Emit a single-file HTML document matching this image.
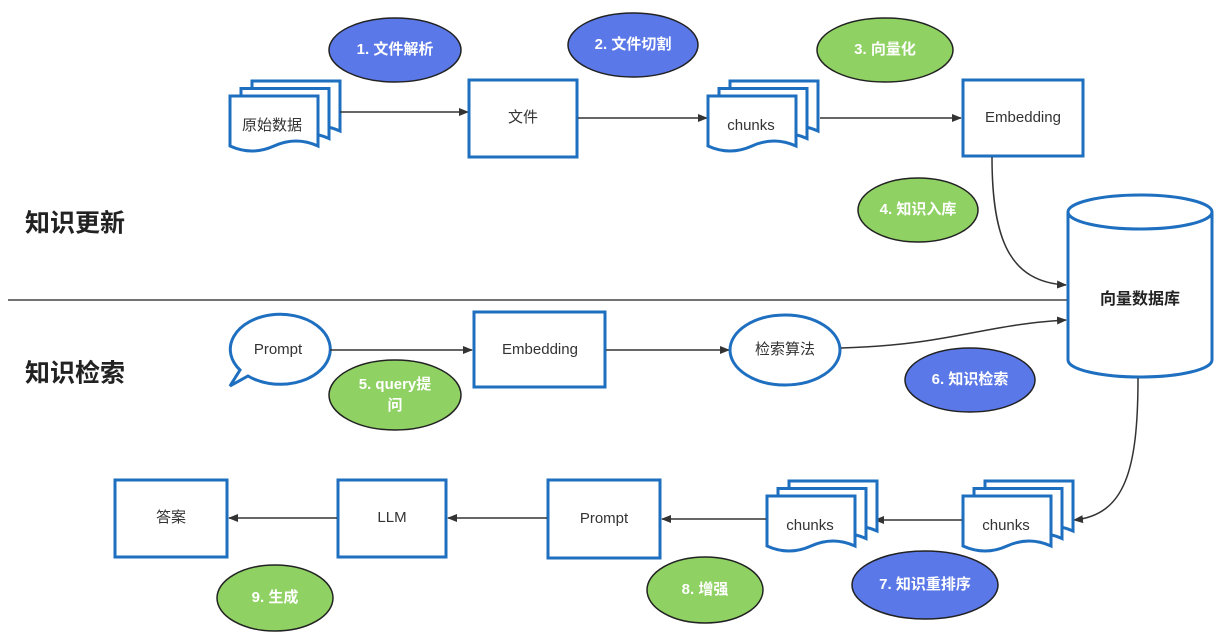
<!DOCTYPE html>
<html><head><meta charset="utf-8"><style>
body{margin:0;background:#fff;}
svg{display:block;}
text{font-family:"Liberation Sans","Noto Sans CJK SC",sans-serif;}
.t{font-size:15px;fill:#333;text-anchor:middle;dominant-baseline:middle;}
.l{font-size:15px;fill:#fff;font-weight:bold;text-anchor:middle;dominant-baseline:middle;}
.b{fill:#fff;stroke:#1e6fc0;stroke-width:3;}
.bl{fill:#5b78e8;stroke:#222;stroke-width:1.5;}
.gr{fill:#8fd163;stroke:#222;stroke-width:1.5;}
.a{stroke:#333;stroke-width:1.5;fill:none;marker-end:url(#ar);}
</style></head><body>
<svg width="1214" height="636" viewBox="0 0 1214 636">
<defs>
<marker id="ar" markerWidth="10" markerHeight="10" refX="9" refY="5" orient="auto" markerUnits="userSpaceOnUse"><path d="M0,1 L10,5 L0,9 Z" fill="#333"/></marker>
<path id="doc" d="M0 0 H88 V50 Q66 40 44 50 T0 50 Z"/>
<g id="stack">
<use href="#doc" x="22" y="-15" class="b"/>
<use href="#doc" x="11" y="-7.5" class="b"/>
<use href="#doc" class="b"/>
</g>
</defs>

<text x="25" y="225" style="font-size:25px;font-weight:bold;fill:#222;dominant-baseline:middle">知识更新</text>
<text x="25" y="375" style="font-size:25px;font-weight:bold;fill:#222;dominant-baseline:middle">知识检索</text>
<line x1="8" y1="300" x2="1070" y2="300" stroke="#444" stroke-width="1.5"/>

<!-- row 1 -->
<use href="#stack" x="230" y="96"/>
<text class="t" x="272" y="126">原始数据</text>
<path class="a" d="M340 112 H468"/>
<rect class="b" x="469" y="80" width="108" height="77"/>
<text class="t" x="523" y="118">文件</text>
<path class="a" d="M578 118 H707"/>
<use href="#stack" x="708" y="96"/>
<text class="t" x="751" y="126">chunks</text>
<path class="a" d="M820 118 H961"/>
<rect class="b" x="963" y="80" width="120" height="76"/>
<text class="t" x="1023" y="118">Embedding</text>
<path class="a" d="M992 157 C992 240 1010 282 1066 285"/>

<path class="b" d="M1068 212 V360 A72 17 0 0 0 1212 360 V212 A72 17 0 0 0 1068 212 A72 17 0 0 0 1212 212"/>
<text class="t" x="1140" y="300" style="font-weight:bold;font-size:16px;fill:#222">向量数据库</text>

<ellipse class="bl" cx="395" cy="50" rx="66" ry="32"/><text class="l" x="395" y="50">1. 文件解析</text>
<ellipse class="bl" cx="633" cy="45" rx="65" ry="32"/><text class="l" x="633" y="45">2. 文件切割</text>
<ellipse class="gr" cx="885" cy="50" rx="68" ry="32"/><text class="l" x="885" y="50">3. 向量化</text>
<ellipse class="gr" cx="918" cy="210" rx="60" ry="32"/><text class="l" x="918" y="210">4. 知识入库</text>

<!-- row 2 -->
<path class="b" d="M248 376 A50 35 0 1 0 240 370 L230 386 Z"/>
<text class="t" x="278" y="350">Prompt</text>
<path class="a" d="M330 350 H472"/>
<rect class="b" x="474" y="312" width="131" height="75"/>
<text class="t" x="540" y="350">Embedding</text>
<path class="a" d="M606 350 H729"/>
<ellipse class="b" cx="785" cy="350" rx="55" ry="35"/>
<text class="t" x="785" y="350">检索算法</text>
<path class="a" d="M841 348 C950 345 980 325 1066 320"/>
<ellipse class="gr" cx="395" cy="395" rx="66" ry="35"/>
<text class="l" x="395" y="385">5. query提</text><text class="l" x="395" y="406">问</text>
<ellipse class="bl" cx="970" cy="380" rx="65" ry="32"/><text class="l" x="970" y="380">6. 知识检索</text>

<!-- row 3 -->
<path class="a" d="M1138 378 C1138 470 1125 515 1074 520"/>
<use href="#stack" x="963" y="496"/>
<text class="t" x="1006" y="526">chunks</text>
<path class="a" d="M962 520 H875"/>
<use href="#stack" x="767" y="496"/>
<text class="t" x="810" y="526">chunks</text>
<path class="a" d="M766 519 H662"/>
<rect class="b" x="548" y="480" width="112" height="78"/>
<text class="t" x="604" y="519">Prompt</text>
<path class="a" d="M547 518 H448"/>
<rect class="b" x="338" y="480" width="108" height="77"/>
<text class="t" x="392" y="518">LLM</text>
<path class="a" d="M337 518 H229"/>
<rect class="b" x="115" y="480" width="112" height="77"/>
<text class="t" x="171" y="518">答案</text>

<ellipse class="bl" cx="925" cy="585" rx="73" ry="34"/><text class="l" x="925" y="585">7. 知识重排序</text>
<ellipse class="gr" cx="705" cy="590" rx="58" ry="33"/><text class="l" x="705" y="590">8. 增强</text>
<ellipse class="gr" cx="275" cy="598" rx="58" ry="33"/><text class="l" x="275" y="598">9. 生成</text>
</svg>
</body></html>
